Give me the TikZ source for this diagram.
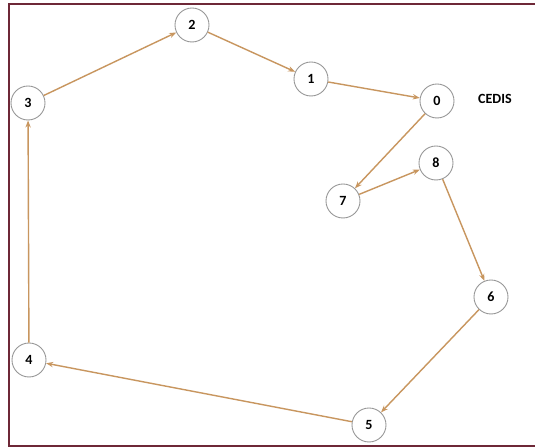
\documentclass[tikz,border=0pt]{standalone}
\usepackage{fontspec}
\setmainfont{Carlito}
\usetikzlibrary{arrows.meta, positioning}
\definecolor{routetan}{RGB}{200, 150, 95}
\definecolor{stopgray}{RGB}{150, 150, 150}
\definecolor{framered}{RGB}{110, 40, 55}
\tikzset{
  stopnode/.style={circle, draw=stopgray, fill=white, line width=0.5pt,
                   minimum size=0.68cm, inner sep=0pt, font=\footnotesize\bfseries},
  route/.style={-{Stealth[length=4pt, width=3pt]}, line width=0.8pt, color=routetan},
  label/.style={font=\footnotesize\bfseries},
}
\begin{document}
\begin{tikzpicture}[x=0.02cm, y=-0.02cm]
        \useasboundingbox (0,0) rectangle (535,448);
        \fill[white] (0,0) rectangle (535,448);
        % frame
        \draw[framered, line width=1pt] (537,4) -- (9,4) -- (9,446) -- (537,446);
        % stops
        \node[stopnode] (n0) at (437,101) {0};
        \node[stopnode] (n1) at (311,79) {1};
        \node[stopnode] (n2) at (192,25) {2};
        \node[stopnode] (n3) at (28,103) {3};
        \node[stopnode] (n4) at (29,360) {4};
        \node[stopnode] (n5) at (369,425) {5};
        \node[stopnode] (n6) at (491,297) {6};
        \node[stopnode] (n7) at (343,201) {7};
        \node[stopnode] (n8) at (436,163) {8};
        \node[label, right=0.35cm of n0, yshift=1pt] (cedis) {CEDIS};
        % route
        \draw[route] (n0) -- (n7);
        \draw[route] (n7) -- (n8);
        \draw[route] (n8) -- (n6);
        \draw[route] (n6) -- (n5);
        \draw[route] (n5) -- (n4);
        \draw[route] (n4) -- (n3);
        \draw[route] (n3) -- (n2);
        \draw[route] (n2) -- (n1);
        \draw[route] (n1) -- (n0);
      \end{tikzpicture}
\end{document}
